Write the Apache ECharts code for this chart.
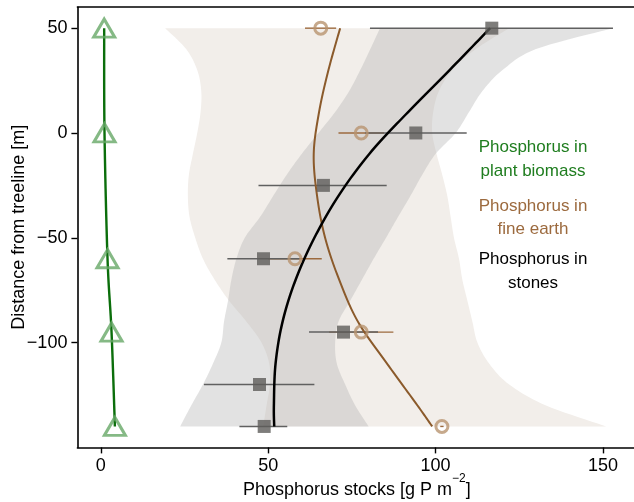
<!DOCTYPE html>
<html><head><meta charset="utf-8">
<script src="https://cdn.jsdelivr.net/npm/echarts@6/dist/echarts.min.js"></script>
<style>html,body{margin:0;padding:0;background:#fff}#c{width:634px;height:502px}</style>
</head><body><div id="c"></div>
<script>
// ---- data ----
const xTicks = [0, 50, 100, 150];
const yTicks = [-100, -50, 0, 50];

const plantY = [50, 0, -60, -95, -140];
const plantX = [1.0, 1.1, 2.0, 3.2, 4.2];

const fineY = [50, 0, -60, -95, -140];
const fineX = [65.7, 77.8, 58.0, 77.8, 101.9];
const fineErrLow = [61.0, 71.0, 50.0, 68.2, 101.4];
const fineErrHigh = [70.3, 84.6, 66.0, 87.4, 102.4];

const stoneY = [50, 0, -25, -60, -95, -120, -140];
const stoneX = [116.8, 94.1, 66.5, 48.6, 72.5, 47.4, 48.8];
const stoneErrLow = [80.4, 78.9, 47.1, 37.8, 62.2, 30.8, 41.4];
const stoneErrHigh = [153.0, 109.3, 85.4, 59.4, 82.8, 63.8, 55.7];

const fitY = [50, 30, 10, -10, -30, -50, -70, -90, -110, -130, -140];
const stoneFitX = [116.3, 104.2, 91.8, 80.2, 71.0, 63.8, 58.2, 54.3, 52.2, 51.7, 51.8];
const fineFitX = [71.5, 68.0, 65.2, 63.6, 64.6, 67.0, 71.2, 76.8, 85.5, 94.6, 99.0];

const bandY = [50, 40, 30, 20, 10, 0, -10, -20, -30, -40, -50, -60, -70, -80, -90, -100, -110, -120, -130, -140];
const fineBandLow  = [19.2, 25.5, 28.8, 30, 29.8, 28.8, 27.5, 26.3, 26, 26.5, 28.2, 30.5, 34, 38.3, 43.5, 48, 50.3, 50.5, 49.5, 48.5];
const fineBandHigh = [122, 112, 105, 101, 99.3, 99, 100.3, 102, 103.5, 104.5, 105.5, 107, 108, 109.5, 111, 112.5, 116, 122, 133, 151];
const stoneBandLow  = [83.4, 80.5, 77.5, 74.2, 70, 65, 60, 55.5, 51.5, 47.6, 43, 40.5, 39, 38, 36.8, 36, 33.5, 30.5, 27, 23.7];
const stoneBandHigh = [153, 130, 120, 114, 110, 106, 100, 96, 92.5, 88.8, 85.2, 81.5, 78, 74.5, 71, 70, 70.5, 73, 76, 80];

const FONT = '"Liberation Sans", Arial, Helvetica, sans-serif';

function catmull(pts, seg) {
  const out = [];
  const n = pts.length;
  for (let i = 0; i < n - 1; i++) {
    const p0 = pts[i - 1] || pts[i], p1 = pts[i], p2 = pts[i + 1], p3 = pts[i + 2] || pts[i + 1];
    for (let s = 0; s < seg; s++) {
      const t = s / seg, t2 = t * t, t3 = t2 * t;
      const f = (a, b, c, d) => 0.5 * ((2 * b) + (-a + c) * t + (2 * a - 5 * b + 4 * c - d) * t2 + (-a + 3 * b - 3 * c + d) * t3);
      out.push([f(p0[0], p1[0], p2[0], p3[0]), f(p0[1], p1[1], p2[1], p3[1])]);
    }
  }
  out.push(pts[n - 1]);
  return out;
}

function bandSeries(low, high, color) {
  return {
    type: 'custom', coordinateSystem: 'cartesian2d', silent: true,
    data: [[low[0], bandY[0]]],
    renderItem: function (params, api) {
      const left = bandY.map((y, i) => api.coord([low[i], y]));
      const right = bandY.map((y, i) => api.coord([high[i], y])).reverse();
      const pts = catmull(left, 10).concat(catmull(right, 10));
      return { type: 'polygon', shape: { points: pts }, style: { fill: color } };
    }
  };
}

function curveSeries(xs, ys, color, width) {
  return {
    type: 'custom', coordinateSystem: 'cartesian2d', silent: true,
    data: [[xs[0], ys[0]]],
    renderItem: function (params, api) {
      const pts = catmull(xs.map((x, i) => api.coord([x, ys[i]])), 14);
      return { type: 'polyline', shape: { points: pts }, style: { stroke: color, lineWidth: width, fill: null, lineJoin: 'round' } };
    }
  };
}

function errSeries(ys, lo, hi, color, width) {
  return {
    type: 'custom', coordinateSystem: 'cartesian2d', silent: true,
    data: ys.map((y, i) => [lo[i], hi[i], y]),
    encode: { x: [0, 1], y: 2 },
    renderItem: function (params, api) {
      const a = api.coord([api.value(0), api.value(2)]);
      const b = api.coord([api.value(1), api.value(2)]);
      return { type: 'line', shape: { x1: a[0], y1: a[1], x2: b[0], y2: b[1] }, style: { stroke: color, lineWidth: width } };
    }
  };
}

const minus = v => String(v).replace('-', '\u2212');

const legendText = (t, y, c) => ({ type: 'text', x: 533, y: y, style: { text: t, align: 'center', verticalAlign: 'middle', font: '17px ' + FONT, fill: c } });

const chart = echarts.init(document.getElementById('c'), null, { renderer: 'canvas' });
chart.setOption({
  animation: false,
  backgroundColor: '#ffffff',
  grid: { left: 77.4, top: 7.2, width: 559, height: 440.2, outerBoundsMode: 'none', containLabel: false },
  xAxis: [{
    type: 'value', min: -7, max: 160, position: 'bottom',
    axisLine: { show: true, onZero: false, lineStyle: { color: '#000', width: 1.6 } },
    axisTick: { show: true, customValues: xTicks, length: 6, lineStyle: { color: '#000', width: 1.4 } },
    axisLabel: { customValues: xTicks, fontSize: 18, fontFamily: FONT, color: '#000', margin: 10 },
    splitLine: { show: false },
    name: '{a|Phosphorus stocks [g P m}{s|\u22122}{a|]}',
    nameLocation: 'middle', nameGap: 25, nameMoveOverlap: false,
    nameTextStyle: {
      fontFamily: FONT, color: '#000', fontSize: 18,
      rich: {
        a: { fontSize: 18, fontFamily: FONT, color: '#000', lineHeight: 27, verticalAlign: 'bottom' },
        s: { fontSize: 12, fontFamily: FONT, color: '#000', lineHeight: 12, verticalAlign: 'top' }
      }
    }
  }, {
    type: 'value', min: -7, max: 160, position: 'top',
    axisLine: { show: true, onZero: false, lineStyle: { color: '#000', width: 1.6 } },
    axisTick: { show: false }, axisLabel: { show: false }, splitLine: { show: false }
  }],
  yAxis: {
    type: 'value', min: -150, max: 60,
    axisLine: { show: true, onZero: false, lineStyle: { color: '#000', width: 1.6 } },
    axisTick: { show: true, customValues: yTicks, length: 6, lineStyle: { color: '#000', width: 1.4 } },
    axisLabel: { customValues: yTicks, fontSize: 18, fontFamily: FONT, color: '#000', margin: 10, formatter: minus },
    splitLine: { show: false },
    name: 'Distance from treeline [m]', nameLocation: 'middle', nameGap: 49.5, nameMoveOverlap: false,
    nameTextStyle: { fontSize: 18, fontFamily: FONT, color: '#000' }
  },
  graphic: [
    legendText('Phosphorus in', 147.5, '#1f7d1f'),
    legendText('plant biomass', 171, '#1f7d1f'),
    legendText('Phosphorus in', 206, '#9c6a3e'),
    legendText('fine earth', 229.5, '#9c6a3e'),
    legendText('Phosphorus in', 259.5, '#000'),
    legendText('stones', 283, '#000')
  ],
  series: [
    bandSeries(fineBandLow, fineBandHigh, '#f2eeea'),
    bandSeries(stoneBandLow, stoneBandHigh, 'rgba(180,180,180,0.38)'),
    errSeries(fineY, fineErrLow, fineErrHigh, '#9c6a3e', 1.4),
    errSeries(stoneY, stoneErrLow, stoneErrHigh, '#606060', 1.5),
    curveSeries(plantX, plantY, '#0b6e0b', 2.4),
    {
      type: 'scatter', data: plantX.map((x, i) => [x, plantY[i]]), symbol: 'triangle', symbolSize: [21, 18],
      itemStyle: { color: 'rgba(0,0,0,0)', borderColor: '#67a867', borderWidth: 3 }, silent: true
    },
    {
      type: 'scatter', data: fineX.map((x, i) => [x, fineY[i]]), symbol: 'circle', symbolSize: 12,
      itemStyle: { color: 'rgba(0,0,0,0)', borderColor: '#b8936f', borderWidth: 3 }, silent: true
    },
    {
      type: 'scatter', data: stoneX.map((x, i) => [x, stoneY[i]]), symbol: 'rect', symbolSize: 13,
      itemStyle: { color: '#5e5c5a' }, silent: true
    },
    curveSeries(fineFitX, fitY, '#8b5a2b', 2),
    curveSeries(stoneFitX, fitY, '#000', 2.5)
  ]
});
</script></body></html>
